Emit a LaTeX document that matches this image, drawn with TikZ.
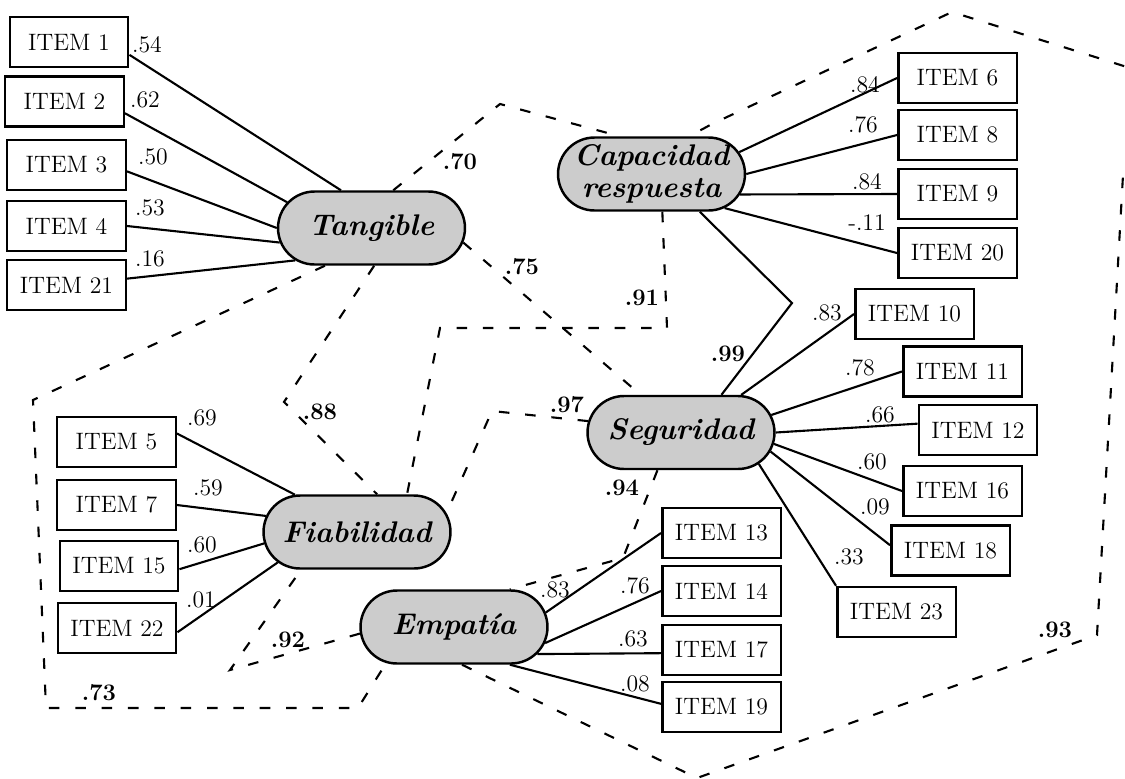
\documentclass[tikz,border=0pt]{standalone}
\usepackage{fontspec}
\usetikzlibrary{shapes.misc}

\tikzset{
  item/.style={draw, line width=1.4pt, minimum width=2.37cm, minimum height=1cm, inner sep=0pt, font=\fontsize{13.5}{16}\selectfont},
  factor/.style={draw, line width=1.4pt, fill=gray!40, rounded rectangle, minimum width=3.74cm, minimum height=1.46cm, inner sep=0pt, align=center, font=\fontsize{17}{18.3}\selectfont\bfseries\itshape},
  load/.style={inner sep=0pt, font=\fontsize{13.5}{16}\selectfont},
  corr/.style={inner sep=0pt, font=\fontsize{13.5}{16}\selectfont\bfseries},
  link/.style={line width=1.2pt},
  covar/.style={line width=1.2pt, dash pattern=on 6pt off 9pt},
}

\begin{document}
\begin{tikzpicture}[x=0.02cm, y=-0.02cm]
        \useasboundingbox (0,0) rectangle (1125,778);
        \clip (0,0) rectangle (1125,778);
        % factores
        \node[factor] (tang) at (371.5,228) {Tangible};
        \node[factor] (capa) at (651.5,174) {Capacidad\\respuesta};
        \node[factor] (segu) at (681,432.5) {Seguridad};
        \node[factor] (fiab) at (357,532) {Fiabilidad};
        \node[factor] (empa) at (454,627) {Empatía};
        % items
        \node[item] (it1) at (69,42) {ITEM 1};
        \node[item] (it2) at (64.5,101.5) {ITEM 2};
        \node[item] (it3) at (66.5,165) {ITEM 3};
        \node[item] (it4) at (66.5,226) {ITEM 4};
        \node[item] (it21) at (66.5,285) {ITEM 21};
        \node[item] (it6) at (957.5,78) {ITEM 6};
        \node[item] (it8) at (957.5,135) {ITEM 8};
        \node[item] (it9) at (957.5,194) {ITEM 9};
        \node[item] (it20) at (957.5,253) {ITEM 20};
        \node[item] (it10) at (914.5,314) {ITEM 10};
        \node[item] (it11) at (962.5,371.5) {ITEM 11};
        \node[item] (it12) at (978,430) {ITEM 12};
        \node[item] (it16) at (962.5,491) {ITEM 16};
        \node[item] (it18) at (950.5,550.5) {ITEM 18};
        \node[item] (it23) at (896.5,612) {ITEM 23};
        \node[item] (it5) at (116.5,442) {ITEM 5};
        \node[item] (it7) at (116.5,505) {ITEM 7};
        \node[item] (it15) at (119,566) {ITEM 15};
        \node[item] (it22) at (117,628) {ITEM 22};
        \node[item] (it13) at (721.5,533) {ITEM 13};
        \node[item] (it14) at (721.5,591) {ITEM 14};
        \node[item] (it17) at (721.5,650) {ITEM 17};
        \node[item] (it19) at (721.5,707) {ITEM 19};
        % cargas
        \draw[link] (it1.-12) -- (tang.129);
        \draw[link] (it2.-11) -- (tang.163);
        \draw[link] (it3.-6) -- (tang.180);
        \draw[link] (it4.east) -- (tang.189);
        \draw[link] (it21.6) -- (tang.203);
        \draw[link] (capa.14) -- (it6.west);
        \draw[link] (capa.0) -- (it8.west);
        \draw[link] (capa.-13) -- (it9.west);
        \draw[link] (capa.-25) -- (it20.west);
        \draw[link] (segu.32) -- (it10.west);
        \draw[link] (segu.11) -- (it11.west);
        \draw[link] (segu.0) -- (it12.174);
        \draw[link] (segu.-7) -- (it16.west);
        \draw[link] (segu.-12) -- (it18.175);
        \draw[link] (segu.-22) -- (it23.north west);
        \draw[link] (it5.8) -- (fiab.149);
        \draw[link] (it7.east) -- (fiab.170);
        \draw[link] (it15.-3) -- (fiab.187);
        \draw[link] (it22.-4) -- (fiab.201);
        \draw[link] (empa.9) -- (it13.west);
        \draw[link] (empa.-10) -- (it14.west);
        \draw[link] (empa.-18) -- (it17.183);
        \draw[link] (empa.-34) -- (it19.177);
        \coordinate (bend) at (792,303);
        \draw[link] (capa.-38) -- (bend) -- (segu.43);
        % correlaciones
        \draw[covar] (tang.60) -- (500,104) -- (capa.130);
        \draw[covar] (tang.-9) -- (segu.137);
        \draw[covar] (capa.-74) -- (667,328) -- (440,328) -- (fiab.37);
        \draw[covar] (segu.173) -- (492,411) -- (fiab.12);
        \draw[covar] (tang.-86) -- (284,402) -- (fiab.62);
        \draw[covar] (segu.-122) -- (623,558) -- (empa.34);
        \draw[covar] (empa.184) -- (230,670) -- (fiab.214);
        \draw[covar] (tang.219) -- (33,400) -- (46,708) -- (358,708) -- (empa.208);
        \draw[covar] (empa.-78) -- (697,778) -- (1097,635) -- (1123,175) -- (1130,150) -- (1200,90) -- (952,12) -- (712,124) -- (capa.45);
        % valores
        \node[load] (la1) at (147,45) {.54};
        \node[load] (la2) at (145,100) {.62};
        \node[load] (la3) at (153,157) {.50};
        \node[load] (la4) at (150,208) {.53};
        \node[load] (la21) at (150,259) {.16};
        \node[load] (lc6) at (865,85) {.84};
        \node[load] (lc8) at (863,125) {.76};
        \node[load] (lc9) at (867,182) {.84};
        \node[load] (lc20) at (867,223) {-.11};
        \node[load] (ls10) at (827,313) {.83};
        \node[load] (ls11) at (860,368) {.78};
        \node[load] (ls12) at (880,415) {.66};
        \node[load] (ls16) at (872,462) {.60};
        \node[load] (ls18) at (875,507) {.09};
        \node[load] (ls23) at (849,557) {.33};
        \node[load] (lf5) at (202,418) {.69};
        \node[load] (lf7) at (208,488) {.59};
        \node[load] (lf15) at (202,545) {.60};
        \node[load] (lf22) at (201,600) {.01};
        \node[load] (le13) at (555,590) {.83};
        \node[load] (le14) at (635,586) {.76};
        \node[load] (le17) at (633,639) {.63};
        \node[load] (le19) at (635,684) {.08};
        \node[corr] (c70) at (460,162) {.70};
        \node[corr] (c75) at (522,267) {.75};
        \node[corr] (c91) at (642,298) {.91};
        \node[corr] (c99) at (728,354) {.99};
        \node[corr] (c97) at (567,405) {.97};
        \node[corr] (c88) at (320,412) {.88};
        \node[corr] (c94) at (622,488) {.94};
        \node[corr] (c92) at (288,640) {.92};
        \node[corr] (c73) at (99,693) {.73};
        \node[corr] (c93) at (1055,630) {.93};
\end{tikzpicture}
\end{document}
